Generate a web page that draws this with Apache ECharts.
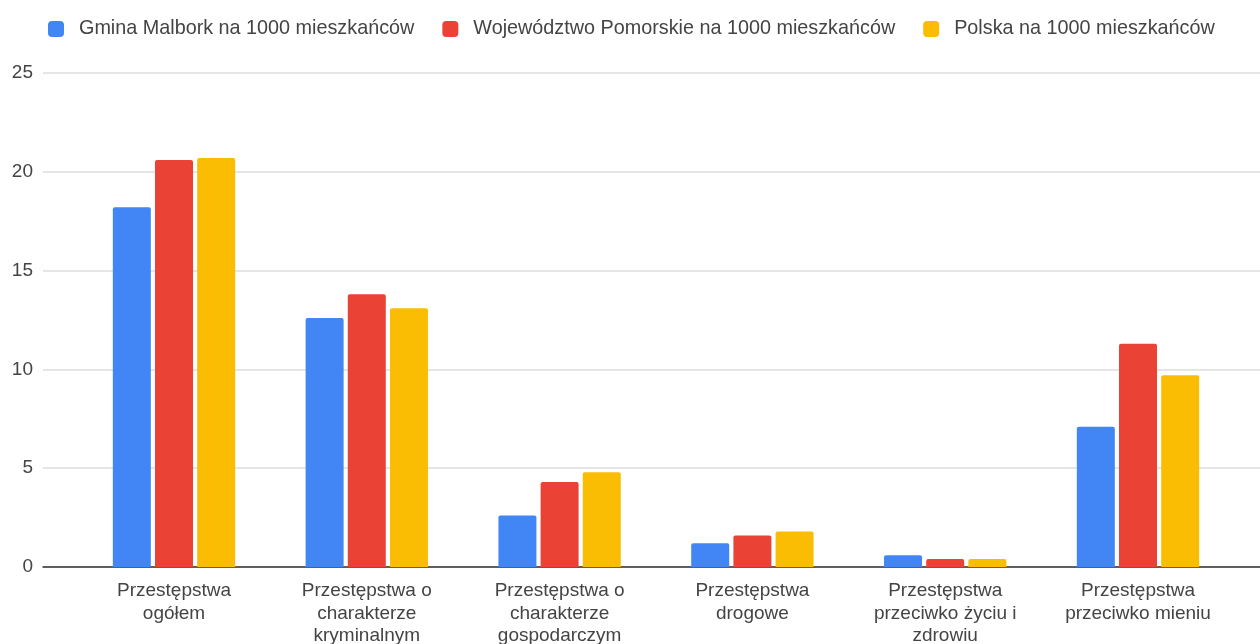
<!DOCTYPE html>
<html>
<head>
<meta charset="utf-8">
<script src="https://cdn.jsdelivr.net/npm/echarts@6/dist/echarts.min.js"></script>
<style>html,body{margin:0;padding:0;background:#fff}#c{width:1260px;height:644px}</style>
</head>
<body>
<div id="c"></div>
<script>
const categories = [
  "Przestępstwa\nogółem",
  "Przestępstwa o\ncharakterze\nkryminalnym",
  "Przestępstwa o\ncharakterze\ngospodarczym",
  "Przestępstwa\ndrogowe",
  "Przestępstwa\nprzeciwko życiu i\nzdrowiu",
  "Przestępstwa\nprzeciwko mieniu"
];
const seriesNames = [
  "Gmina Malbork na 1000 mieszkańców",
  "Województwo Pomorskie na 1000 mieszkańców",
  "Polska na 1000 mieszkańców"
];
const gmina = [18.2, 12.6, 2.6, 1.2, 0.6, 7.1];
const pomorskie = [20.6, 13.8, 4.3, 1.6, 0.4, 11.3];
const polska = [20.7, 13.1, 4.8, 1.8, 0.4, 9.7];
const yTicks = { min: 0, max: 25, interval: 5 };
const colors = ["#4285F4", "#EA4335", "#FBBC04"];

const font = "Liberation Sans, Arial, sans-serif";
const chart = echarts.init(document.getElementById('c'));
const values = [gmina, pomorskie, polska];
chart.setOption({
  animation: false,
  color: colors,
  textStyle: { fontFamily: font },
  legend: {
    left: 43, top: 14,
    itemWidth: 16, itemHeight: 16, itemGap: 28,
    icon: 'roundRect',
    textStyle: { fontSize: 19.8, color: '#444', fontFamily: font, padding: [0, 0, 0, 10] },
    data: seriesNames
  },
  grid: [
    { left: 43, right: 0, top: 73, bottom: 77, outerBoundsMode: 'none', containLabel: false },
    { left: 77.6, right: 25.6, top: 73, bottom: 77, outerBoundsMode: 'none', containLabel: false }
  ],
  xAxis: [
    { type: 'category', gridIndex: 0, data: categories,
      axisLine: { lineStyle: { color: '#333', width: 1.5 } },
      axisTick: { show: false }, axisLabel: { show: false }, splitLine: { show: false } },
    { type: 'category', gridIndex: 1, data: categories,
      axisLine: { show: false }, axisTick: { show: false },
      axisLabel: { fontSize: 19, color: '#444', lineHeight: 22.5, margin: 13, interval: 0, fontFamily: font } }
  ],
  yAxis: [
    { type: 'value', gridIndex: 0, min: yTicks.min, max: yTicks.max, interval: yTicks.interval,
      axisLabel: { fontSize: 19, color: '#444', margin: 10, fontFamily: font },
      axisLine: { show: false }, axisTick: { show: false },
      splitLine: { lineStyle: { color: '#dcdcdc', width: 1.5 } } },
    { type: 'value', gridIndex: 1, min: yTicks.min, max: yTicks.max, interval: yTicks.interval, show: false,
      splitLine: { show: false } }
  ],
  series: seriesNames.map((n, i) => ({
    name: n, type: 'bar', xAxisIndex: 1, yAxisIndex: 1,
    data: values[i], barWidth: 38, barGap: '11%',
    itemStyle: { borderRadius: [2, 2, 0, 0] }
  }))
});
</script>
</body>
</html>
